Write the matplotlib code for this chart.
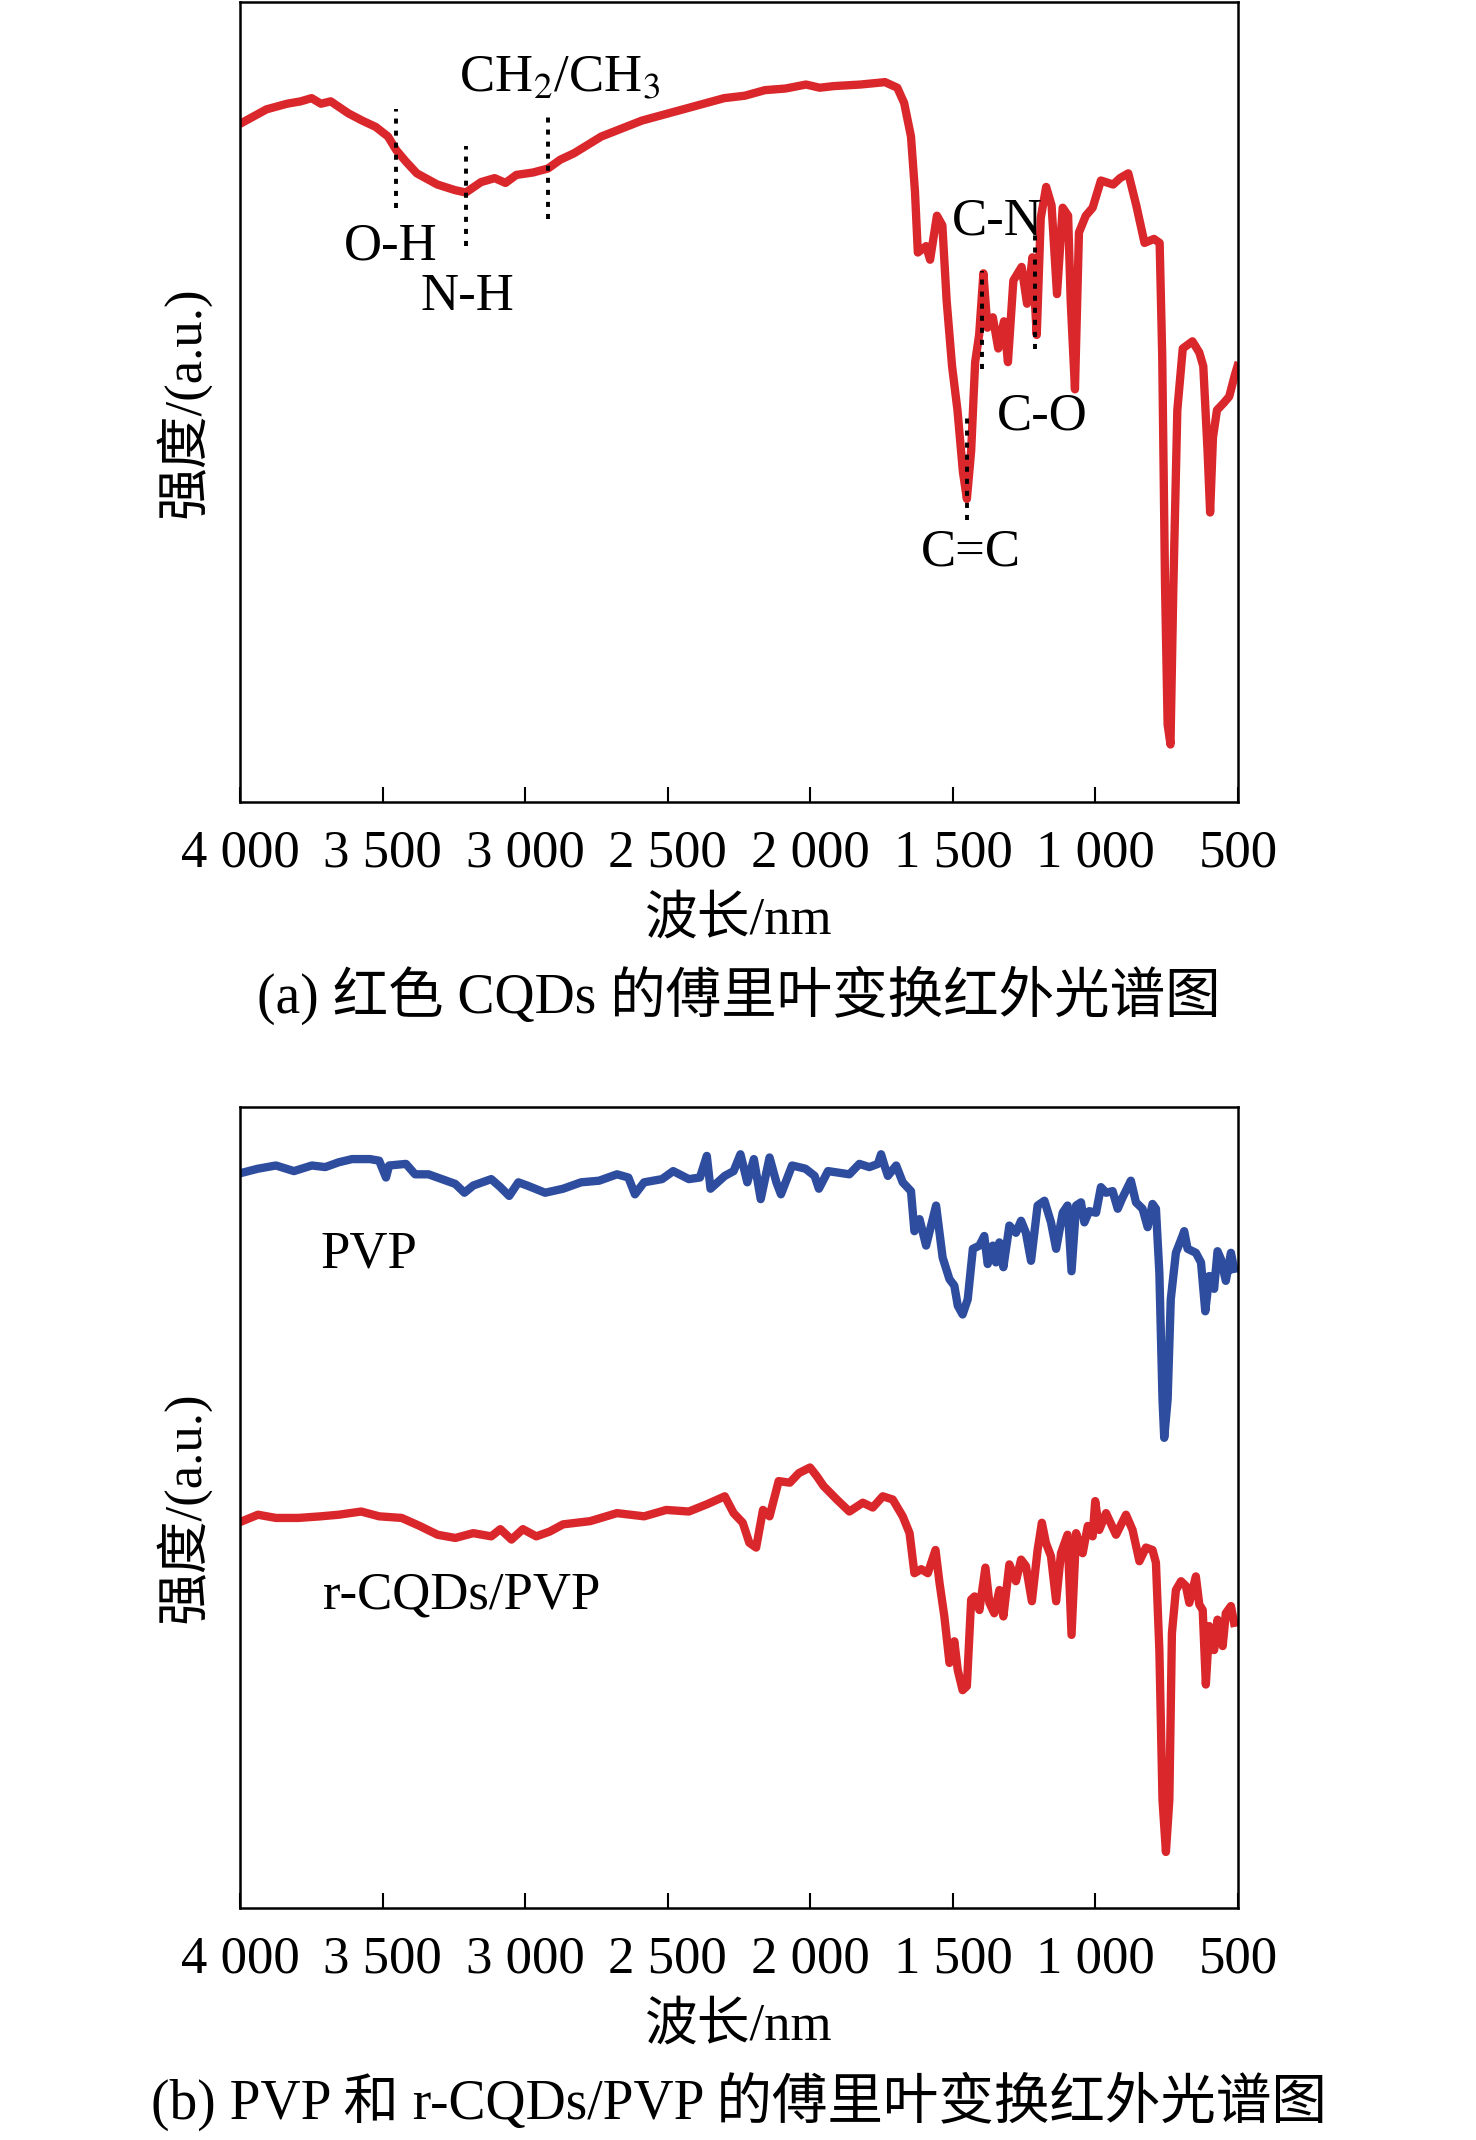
import matplotlib
matplotlib.use('Agg')
import matplotlib.pyplot as plt

plt.rcParams['font.family'] = ['Liberation Serif', 'Noto Sans CJK SC']
plt.rcParams['mathtext.fontset'] = 'stix'

# ---- (a) red CQDs FTIR: wavenumber (cm-1), intensity (a.u.)
wn_a = [3989, 3907, 3835, 3787, 3749, 3716, 3682, 3620, 3572, 3524, 3481, 3452,
        3419, 3380, 3308, 3246, 3208, 3155, 3107, 3069, 3031, 2973, 2920, 2877,
        2829, 2733, 2590, 2446, 2302, 2230, 2159, 2087, 2015, 1967, 1919, 1824,
        1738, 1695, 1671, 1647, 1633, 1623, 1594, 1580, 1556, 1537, 1522, 1503,
        1484, 1465, 1451, 1436, 1422, 1408, 1393, 1379, 1360, 1341, 1321, 1307,
        1288, 1259, 1240, 1221, 1206, 1192, 1173, 1154, 1135, 1115, 1096, 1087,
        1072, 1058, 1034, 1010, 981, 938, 914, 885, 857, 828, 795, 775, 766,
        756, 747, 737, 727, 713, 694, 660, 636, 622, 607, 598, 588, 574, 550,
        531, 512, 502]
int_a = [85.0, 86.6, 87.3, 87.6, 88.0, 87.3, 87.6, 86.1, 85.2, 84.4, 83.2, 81.5,
         80.1, 78.6, 77.2, 76.5, 76.2, 77.5, 78.0, 77.4, 78.4, 78.7, 79.2, 80.3,
         81.1, 83.2, 85.2, 86.6, 88.0, 88.3, 89.0, 89.2, 89.7, 89.3, 89.5, 89.7,
         90.0, 89.3, 87.4, 83.2, 76.3, 68.7, 69.5, 67.8, 73.3, 72.1, 62.7, 54.5,
         49.0, 41.3, 37.9, 43.9, 55.0, 58.4, 66.1, 59.3, 60.6, 56.7, 60.1, 55.0,
         65.2, 66.9, 62.3, 68.1, 58.4, 73.0, 76.9, 74.6, 63.5, 74.3, 73.3, 62.7,
         51.6, 71.2, 73.3, 74.3, 77.7, 77.2, 78.0, 78.6, 74.6, 69.9, 70.4, 69.9,
         55.8, 26.8, 9.7, 7.2, 26.8, 49.0, 56.7, 57.6, 56.2, 54.5, 43.9, 36.2,
         45.6, 49.0, 49.9, 50.7, 53.3, 54.5]

# band assignments in (a): label, text position, dotted marker line
band_labels = ['CH$_2$/CH$_3$', 'O-H', 'N-H', 'C-N', 'C-O', 'C=C']
band_text_wn = [2877, 3471, 3203, 1345, 1187, 1436]
band_text_int = [90.5, 69.5, 63.2, 72.6, 48.2, 31.2]
mark_wn = [3452, 3208, 2920, 1451, 1398, 1211]
mark_top = [86.6, 82.0, 85.7, 48.2, 66.4, 71.6]
mark_bottom = [74.3, 69.5, 72.9, 35.3, 54.1, 56.7]

# ---- (b) PVP (blue)
wn_pvp = [3992, 3937, 3874, 3811, 3748, 3701, 3654, 3607, 3544, 3512, 3488, 3477,
          3418, 3386, 3339, 3292, 3245, 3213, 3182, 3119, 3087, 3056, 3024, 2993,
          2930, 2867, 2804, 2741, 2678, 2638, 2615, 2583, 2520, 2481, 2426, 2387,
          2363, 2350, 2300, 2269, 2245, 2221, 2198, 2174, 2143, 2119, 2103, 2064,
          2017, 1985, 1970, 1938, 1863, 1828, 1793, 1763, 1752, 1740, 1728, 1699,
          1676, 1647, 1635, 1617, 1594, 1559, 1536, 1512, 1495, 1483, 1466, 1448,
          1430, 1407, 1390, 1378, 1360, 1349, 1337, 1323, 1302, 1279, 1261, 1244,
          1226, 1203, 1179, 1156, 1138, 1115, 1098, 1084, 1068, 1051, 1039, 1022,
          998, 981, 963, 940, 922, 905, 876, 858, 835, 817, 800, 788, 776, 765,
          759, 747, 736, 718, 695, 689, 677, 648, 630, 615, 601, 584, 572, 560,
          543, 525, 514]
int_pvp = [91.8, 92.3, 92.7, 92.0, 92.7, 92.5, 93.1, 93.5, 93.5, 93.3, 91.2, 92.7,
           92.9, 91.6, 91.6, 91.0, 90.4, 89.3, 90.2, 91.0, 90.0, 88.9, 90.6, 90.2,
           89.3, 89.8, 90.6, 90.8, 91.6, 91.2, 89.1, 90.6, 91.0, 92.0, 91.0, 91.2,
           93.9, 89.8, 91.4, 92.0, 94.1, 90.6, 93.5, 88.5, 93.7, 90.6, 89.1, 92.7,
           92.3, 91.4, 89.8, 92.0, 91.6, 92.9, 92.5, 92.9, 94.1, 92.7, 91.4, 92.7,
           90.6, 89.5, 84.5, 86.0, 82.7, 87.7, 81.2, 78.5, 77.7, 75.2, 74.1, 76.0,
           82.3, 82.7, 83.9, 80.4, 82.7, 80.6, 83.1, 80.0, 85.2, 84.3, 85.8, 84.3,
           80.8, 87.7, 88.3, 85.6, 82.3, 86.8, 87.7, 79.5, 87.7, 88.1, 85.6, 87.0,
           86.8, 90.0, 89.3, 89.5, 87.3, 88.7, 90.8, 88.1, 87.3, 85.0, 87.9, 87.3,
           79.3, 63.5, 58.7, 63.5, 76.0, 81.8, 83.9, 84.5, 82.3, 81.8, 80.6, 74.5,
           78.9, 77.3, 82.0, 81.0, 78.3, 81.8, 79.8]

# ---- (b) r-CQDs/PVP (red)
wn_rcqd = [3992, 3937, 3874, 3795, 3717, 3654, 3575, 3512, 3433, 3370, 3307, 3245,
           3182, 3119, 3087, 3048, 3008, 2961, 2914, 2867, 2772, 2678, 2583, 2505,
           2426, 2363, 2300, 2269, 2237, 2214, 2190, 2166, 2143, 2111, 2072, 2040,
           2001, 1977, 1954, 1907, 1863, 1816, 1781, 1746, 1711, 1676, 1652, 1635,
           1611, 1588, 1561, 1547, 1530, 1512, 1495, 1483, 1466, 1451, 1436, 1424,
           1407, 1386, 1372, 1355, 1337, 1323, 1302, 1279, 1261, 1244, 1223, 1203,
           1188, 1174, 1156, 1138, 1121, 1098, 1084, 1068, 1045, 1027, 1010, 1001,
           987, 963, 928, 893, 870, 846, 823, 800, 788, 776, 765, 753, 741, 732,
           718, 700, 683, 671, 648, 636, 624, 613, 601, 584, 572, 554, 543, 525,
           514]
int_rcqd = [48.3, 49.1, 48.7, 48.7, 48.9, 49.1, 49.5, 48.9, 48.7, 47.7, 46.6, 46.2,
            46.8, 46.4, 47.3, 46.0, 47.3, 46.4, 47.0, 47.9, 48.3, 49.3, 48.9, 49.7,
            49.5, 50.4, 51.4, 49.3, 48.1, 45.6, 45.0, 49.7, 48.9, 53.3, 53.1, 54.3,
            55.0, 53.9, 52.7, 51.0, 49.5, 50.6, 50.0, 51.4, 51.0, 48.9, 46.8, 41.8,
            42.3, 41.8, 44.7, 40.6, 36.4, 30.6, 33.3, 29.7, 27.2, 27.7, 38.5, 38.9,
            37.2, 42.5, 38.1, 36.8, 39.7, 36.4, 42.9, 40.8, 43.5, 42.7, 38.3, 44.7,
            48.1, 45.6, 43.9, 38.3, 44.3, 46.6, 34.1, 46.8, 44.3, 47.7, 46.4, 50.8,
            47.2, 49.3, 46.6, 49.1, 47.2, 43.3, 45.0, 44.7, 43.1, 32.2, 13.5, 7.0,
            13.5, 34.3, 39.7, 40.8, 40.2, 38.1, 41.4, 37.9, 37.2, 27.9, 35.2, 32.2,
            36.0, 32.7, 36.8, 37.7, 35.6]

series_b = ['PVP', 'r-CQDs/PVP']
series_b_text_wn = [3548, 3222]
series_b_text_int = [81.6, 39.0]

xticks = [4000, 3500, 3000, 2500, 2000, 1500, 1000, 500]
xtick_labels = ['4 000', '3 500', '3 000', '2 500', '2 000', '1 500', '1 000', '500']

RED = '#d9272c'
BLUE = '#2f4d9e'
FS = 38
LW = 6.0


def style_axes(ax, caption):
    ax.set_xlim(4000, 500)
    ax.set_ylim(0, 100)
    ax.set_xticks(xticks)
    ax.set_xticklabels(xtick_labels)
    ax.set_yticks([])
    ax.tick_params(axis='x', direction='in', length=11, width=1.5,
                   labelsize=FS, pad=20)
    for sp in ax.spines.values():
        sp.set_linewidth(1.8)
    ax.set_xlabel('波长/nm', fontsize=FS)
    ax.xaxis.set_label_coords(0.5, -0.147)
    ax.xaxis.label.set_va('center')
    ax.set_ylabel('强度/(a.u.)', fontsize=FS)
    ax.yaxis.set_label_coords(-0.058, 0.5)
    ax.yaxis.label.set_va('center')
    ax.text(0.5, -0.241, caption, transform=ax.transAxes, fontsize=40,
            ha='center', va='center')


fig = plt.figure(figsize=(14.76, 21.40), dpi=100)
ax1 = fig.add_axes([0.1626, 0.6252, 0.6762, 0.3738])
ax2 = fig.add_axes([0.1626, 0.1084, 0.6762, 0.3743])

# (a)
ax1.plot(wn_a, int_a, color=RED, lw=LW, solid_joinstyle='round')
for w, t, b in zip(mark_wn, mark_top, mark_bottom):
    ax1.plot([w, w], [b, t], color='black', lw=2.8, linestyle=(0, (1.3, 1.8)))
for lab, w, i in zip(band_labels, band_text_wn, band_text_int):
    ax1.text(w, i, lab, fontsize=FS, ha='center', va='center')
style_axes(ax1, '(a) 红色 CQDs 的傅里叶变换红外光谱图')

# (b)
ax2.plot(wn_pvp, int_pvp, color=BLUE, lw=LW, solid_joinstyle='round')
ax2.plot(wn_rcqd, int_rcqd, color=RED, lw=LW, solid_joinstyle='round')
for lab, w, i in zip(series_b, series_b_text_wn, series_b_text_int):
    ax2.text(w, i, lab, fontsize=FS, ha='center', va='center')
style_axes(ax2, '(b) PVP 和 r-CQDs/PVP 的傅里叶变换红外光谱图')

plt.savefig('out.png', dpi=100)
